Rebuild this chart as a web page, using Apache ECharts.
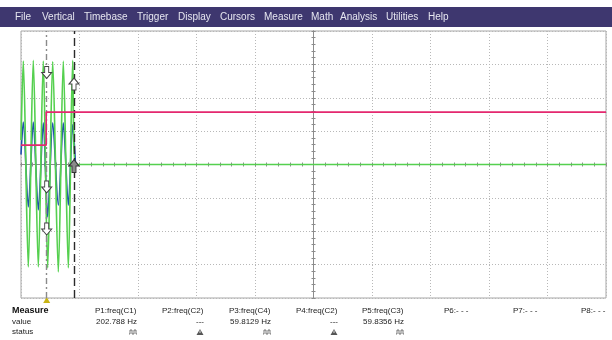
<!DOCTYPE html>
<html><head><meta charset="utf-8">
<script src="https://cdn.jsdelivr.net/npm/echarts@6/dist/echarts.min.js"></script>
<style>html,body{margin:0;padding:0;background:#fff}#c{width:612px;height:340px}</style>
</head><body><div id="c"></div><script>
// Scope screen: time in divisions (-5..5), amplitude in divisions (-4..4)
const greenT = [-5.0, -4.961, -4.875, -4.790, -4.704, -4.619, -4.544, -4.458, -4.362, -4.277, -4.191, -4.116, -4.068, 5.0];
const greenV = [0.73, 3.10, -3.07, 3.12, -3.07, 3.10, -3.10, 3.08, -3.22, 3.10, -3.10, 3.12, 0, 0];
const blueT  = [-5.0, -4.961, -4.875, -4.790, -4.704, -4.619, -4.544, -4.458, -4.362, -4.277, -4.191, -4.116, -4.068];
const blueV  = [0.30, 1.27, -1.27, 1.27, -1.36, 1.25, -1.57, 1.25, -1.22, 1.25, -1.22, 1.20, 0];
const pinkT  = [-5.0, -4.569, -4.569, 5.0];
const pinkV  = [0.58, 0.58, 1.57, 1.57];

// cursors
const cursorDashDot = -4.561;
const cursorDashed = -4.094;
const downArrowsV = [2.757, -0.674, -1.933];
const upArrowsV = [2.412];
const upArrowDarkV = [-0.045];

// menu and measurement table
const menuItems = ['File','Vertical','Timebase','Trigger','Display','Cursors','Measure','Math','Analysis','Utilities','Help'];
const menuX = [15, 42, 84, 137, 178, 220, 264, 311, 340, 386, 428];
const paramNames = ['P1:freq(C1)','P2:freq(C2)','P3:freq(C4)','P4:freq(C2)','P5:freq(C3)','P6:- - -','P7:- - -','P8:- - -'];
const paramValues = ['202.788 Hz','---','59.8129 Hz','---','59.8356 Hz','','',''];
const paramStatus = ['pulse','warn','pulse','warn','pulse','','',''];
const colX = [95, 162, 229, 296, 362, 444, 513, 581];

const pair = (t, v) => t.map((x, i) => [x, v[i]]);

const chart = echarts.init(document.getElementById('c'), null, {renderer: 'canvas'});

const axisCommon = {
  type: 'value',
  axisLabel: {show: false},
  axisLine: {show: true, onZero: true, lineStyle: {color: '#8c8c8c', width: 1}},
  axisTick: {show: true, inside: true, length: 2, lineStyle: {color: '#8c8c8c'}},
  minorTick: {show: true, splitNumber: 5, length: 2, lineStyle: {color: '#8c8c8c'}},
};
const gridLine = {show: true, lineStyle: {color: '#b8b8b8', width: 1, type: [1, 2]}};

const arrowDown = 'path://M3,0 L7,0 L7,6 L10,6 L5,12 L0,6 L3,6 Z';
const arrowUp = 'path://M5,0 L10,6 L7,6 L7,12 L3,12 L3,6 L0,6 Z';

const graphics = [
  {type: 'rect', shape: {x: 0, y: 7, width: 612, height: 20}, style: {fill: '#3e376f'}, z: 10},
];
menuItems.forEach((m, i) => graphics.push({
  type: 'text', x: menuX[i], y: 17, z: 11,
  style: {text: m, fill: '#e6e6f0', font: '10px "Liberation Sans", Arial, sans-serif', textVerticalAlign: 'middle'}
}));
const tf = '8px "Liberation Sans", Arial, sans-serif';
graphics.push({type: 'text', x: 12, y: 311, style: {text: 'Measure', fill: '#111', font: 'bold 9px "Liberation Sans", Arial, sans-serif', textVerticalAlign: 'middle'}});
graphics.push({type: 'text', x: 12, y: 321.5, style: {text: 'value', fill: '#222', font: tf, textVerticalAlign: 'middle'}});
graphics.push({type: 'text', x: 12, y: 332, style: {text: 'status', fill: '#222', font: tf, textVerticalAlign: 'middle'}});
paramNames.forEach((p, i) => {
  const x0 = colX[i];
  graphics.push({type: 'text', x: x0, y: 311, style: {text: p, fill: '#222', font: tf, textVerticalAlign: 'middle'}});
  if (paramValues[i]) {
    graphics.push({type: 'text', x: x0 + 42, y: 321.5, style: {text: paramValues[i], fill: '#222', font: tf, textAlign: 'right', textVerticalAlign: 'middle'}});
  }
  const cx = x0 + 38;
  if (paramStatus[i] === 'pulse') {
    graphics.push({type: 'polyline', shape: {points: [[cx - 4, 334], [cx - 3, 334], [cx - 3, 330], [cx - 1, 330], [cx - 1, 334], [cx + 1, 334], [cx + 1, 330], [cx + 3, 330], [cx + 3, 334], [cx + 4, 334]]}, style: {stroke: '#555', lineWidth: 0.8, fill: null}});
  } else if (paramStatus[i] === 'warn') {
    graphics.push({type: 'polygon', shape: {points: [[cx, 329], [cx + 3.5, 335], [cx - 3.5, 335]]}, style: {fill: '#555'}});
    graphics.push({type: 'rect', shape: {x: cx - 0.5, y: 330.5, width: 1, height: 2.5}, style: {fill: '#ddd'}});
  }
});

chart.setOption({
  animation: false,
  backgroundColor: '#ffffff',
  grid: {left: 21, top: 31, width: 585, height: 267, show: true, borderColor: '#a6a6a6', borderWidth: 1, backgroundColor: '#fff'},
  xAxis: [
    Object.assign({}, axisCommon, {min: -5, max: 5, interval: 1, position: 'bottom', splitLine: gridLine}),
    Object.assign({}, axisCommon, {min: -5, max: 5, interval: 1, position: 'top', splitLine: {show: false}})
  ],
  yAxis: [
    Object.assign({}, axisCommon, {min: -4, max: 4, interval: 1, position: 'left', splitLine: gridLine}),
    Object.assign({}, axisCommon, {min: -4, max: 4, interval: 1, position: 'right', splitLine: {show: false}})
  ],
  series: [
    {
      type: 'line', name: 'C3', data: pair(blueT, blueV), symbol: 'none', smooth: 0.3,
      lineStyle: {color: '#1f4fae', width: 1.6}, z: 3
    },
    {
      type: 'line', name: 'C1', data: pair(greenT, greenV), symbol: 'none', smooth: 0.3,
      lineStyle: {color: '#55d04f', width: 1.7}, z: 4
    },
    {
      type: 'line', name: 'C4', data: pair(pinkT, pinkV), symbol: 'none',
      lineStyle: {color: '#e4286f', width: 1.6}, z: 5
    },
    {
      type: 'line', name: 'cursors', data: [], z: 6,
      markLine: {
        silent: true, symbol: 'none', label: {show: false},
        data: [
          {xAxis: cursorDashDot, lineStyle: {color: '#8a8a8a', width: 1.4, type: [6, 3, 2, 3]}},
          {xAxis: cursorDashed, lineStyle: {color: '#2a2a2a', width: 1.4, type: [8, 4]}}
        ]
      },
      markPoint: {
        silent: true, label: {show: false},
        data: downArrowsV.map(v => ({coord: [cursorDashDot, v], symbol: arrowDown, symbolSize: [10, 12], itemStyle: {color: '#fff', borderColor: '#444', borderWidth: 1}}))
          .concat(upArrowsV.map(v => ({coord: [cursorDashed, v], symbol: arrowUp, symbolSize: [10, 12], itemStyle: {color: '#fff', borderColor: '#444', borderWidth: 1}})))
          .concat(upArrowDarkV.map(v => ({coord: [cursorDashed, v], symbol: arrowUp, symbolSize: [10, 13], itemStyle: {color: '#8a8a8a', borderColor: '#333', borderWidth: 1}})))
      }
    }
  ],
  graphic: graphics
});

// trigger position marker under the screen
const p = chart.convertToPixel({gridIndex: 0}, [cursorDashDot, -4]);
chart.setOption({graphic: graphics.concat([{
  type: 'polygon', shape: {points: [[p[0], p[1] - 1], [p[0] + 3.5, p[1] + 5], [p[0] - 3.5, p[1] + 5]]}, style: {fill: '#c8b414'}
}])});
</script></body></html>
